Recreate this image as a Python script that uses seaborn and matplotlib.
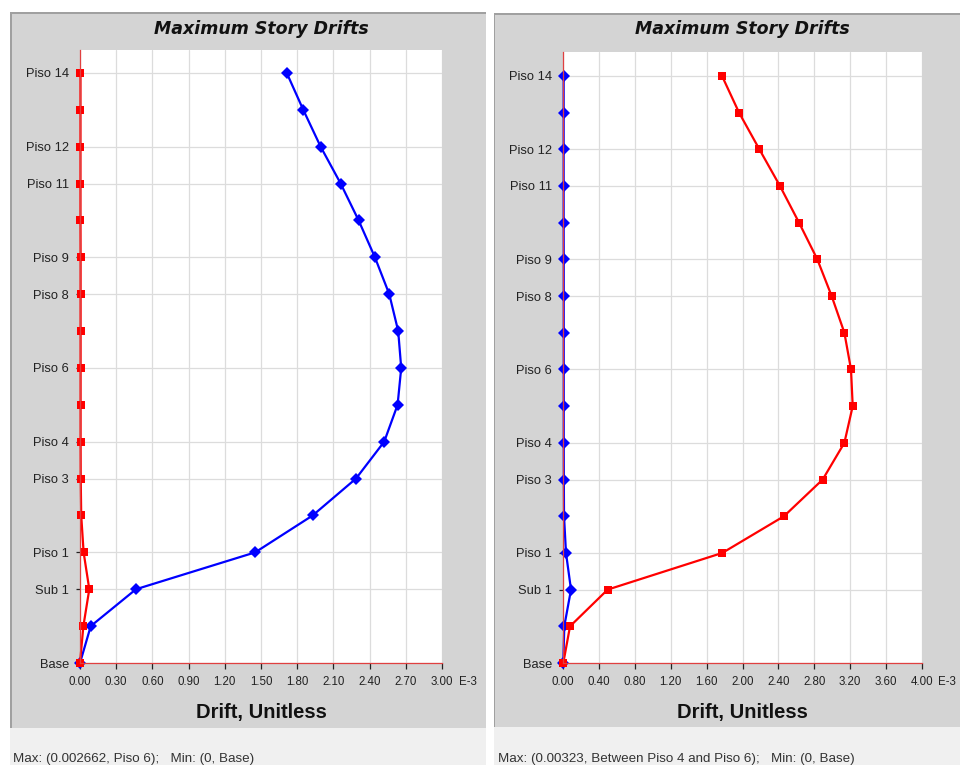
import numpy as np
import pandas as pd
import matplotlib
matplotlib.use("Agg")
import matplotlib.pyplot as plt
from matplotlib.patches import Rectangle
import seaborn as sns

# story list, bottom to top (label of the 2nd level is hidden in the original)
stories = ["Base", "Sub 2", "Sub 1", "Piso 1", "Piso 2", "Piso 3", "Piso 4",
           "Piso 5", "Piso 6", "Piso 7", "Piso 8", "Piso 9", "Piso 10",
           "Piso 11", "Piso 12", "Piso 13", "Piso 14"]
shown_labels = ["Base", "Sub 1", "Piso 1", "Piso 3", "Piso 4", "Piso 6",
                "Piso 8", "Piso 9", "Piso 11", "Piso 12", "Piso 14"]

# drifts in units of 1e-3, bottom to top
left_blue = [0, 0.089, 0.464, 1.452, 1.928, 2.287, 2.521, 2.632, 2.662,
             2.637, 2.563, 2.444, 2.309, 2.160, 1.994, 1.850, 1.713]
left_red = [0, 0.028, 0.077, 0.030, 0.010, 0.006, 0.005, 0.005, 0.005,
            0.005, 0.005, 0.005, 0.004, 0.004, 0.004, 0.004, 0.004]
right_red = [0, 0.075, 0.495, 1.775, 2.463, 2.895, 3.137, 3.230, 3.211,
             3.137, 2.995, 2.835, 2.631, 2.418, 2.188, 1.961, 1.771]
right_blue = [0, 0.011, 0.086, 0.030, 0.008, 0.006, 0.005, 0.005, 0.005,
              0.005, 0.005, 0.005, 0.004, 0.004, 0.004, 0.004, 0.004]

left_ticks = np.round(np.arange(0, 3.0001, 0.3), 2)
right_ticks = np.round(np.arange(0, 4.0001, 0.4), 2)

title = "Maximum Story Drifts"
xlabel = "Drift, Unitless"
left_status = "Max: (0.002662, Piso 6);   Min: (0, Base)"
right_status = "Max: (0.00323, Between Piso 4 and Piso 6);   Min: (0, Base)"

sns.set_style("white")
plt.rcParams["font.family"] = ["Liberation Sans", "DejaVu Sans"]

W, H = 960, 765
fig = plt.figure(figsize=(W / 100, H / 100), dpi=100, facecolor="white")


def px_rect(x0, y0, x1, y1, **kw):
    # rectangle given in image pixels (origin top left), kept behind the axes
    r = Rectangle((x0 / W, 1 - y1 / H), (x1 - x0) / W, (y1 - y0) / H,
                  transform=fig.transFigure, zorder=-10, **kw)
    fig.patches.append(r)


def px_axes(x0, y0, x1, y1):
    return fig.add_axes([x0 / W, 1 - y1 / H, (x1 - x0) / W, (y1 - y0) / H])


# grey panels, status bars
for x0, x1, ytop, ybot in [(10, 486, 12, 728), (494, 961, 13, 727)]:
    px_rect(x0, ytop, x1, ybot, facecolor="#d4d4d4", edgecolor="none")
    px_rect(x0, ybot, x1, H + 1, facecolor="#f0f0f0", edgecolor="none")
    px_rect(x0, ytop, x1, ytop + 1.5, facecolor="#a0a0a0", edgecolor="none")
    px_rect(x0, ytop, x0 + 1.5, ybot, facecolor="#a0a0a0", edgecolor="none")

panels = [
    dict(box=(80, 50, 442, 663), ymax=16.62, ticks=left_ticks,
         series=[(left_blue, "#0000ff", "D", 6), (left_red, "#ff0000", "s", 5.5)],
         status=left_status, sx=13),
    dict(box=(563.3, 52, 921.7, 663), ymax=16.65, ticks=right_ticks,
         series=[(right_blue, "#0000ff", "D", 6), (right_red, "#ff0000", "s", 5.5)],
         status=right_status, sx=498),
]

level = np.arange(len(stories))
shown_pos = [stories.index(s) for s in shown_labels]

for p in panels:
    ax = px_axes(*p["box"])
    ax.set_facecolor("white")
    for vals, color, mk, ms in p["series"]:
        df = pd.DataFrame({"drift": vals, "level": level})
        sns.lineplot(data=df, x="drift", y="level", orient="y", sort=False,
                     color=color, marker=mk, markersize=ms, linewidth=1.6,
                     markeredgewidth=0, ax=ax)
    for ln in ax.lines:
        ln.set_clip_on(False)

    ax.set_xlim(0, p["ticks"][-1])
    ax.set_ylim(0, p["ymax"])
    ax.set_xticks(p["ticks"])
    ax.set_xticklabels([f"{t:.2f}" for t in p["ticks"]])
    ax.set_yticks(shown_pos)
    ax.set_yticklabels(shown_labels)
    ax.grid(True, color="#dcdcdc", linewidth=0.9)
    ax.set_axisbelow(True)

    for side in ["top", "right"]:
        ax.spines[side].set_visible(False)
    for side in ["left", "bottom"]:
        ax.spines[side].set_color("#e04040")
        ax.spines[side].set_linewidth(0.9)

    ax.tick_params(axis="x", direction="out", length=4.5, width=0.9,
                   color="#222222", pad=5, labelsize=8.3, labelcolor="#222222")
    ax.tick_params(axis="y", direction="out", length=3, width=0.9,
                   color="#222222", pad=5, labelsize=9.3, labelcolor="#222222")
    ax.tick_params(bottom=True, left=True)

    ax.set_ylabel("")
    ax.set_xlabel(xlabel, fontsize=14.5, fontweight="bold", labelpad=11,
                  color="#111111")
    ax.annotate("E-3", xy=(1, 0), xycoords="axes fraction",
                xytext=(12, -9.5), textcoords="offset points",
                ha="left", va="top", fontsize=8.3, color="#222222")

    x0, y0, x1, y1 = p["box"]
    fig.text((x0 + x1) / 2 / W, 1 - 29.5 / H, title, ha="center", va="center",
             fontsize=12.5, fontweight="bold", fontstyle="italic",
             family="DejaVu Sans", color="#111111")
    fig.text(p["sx"] / W, 1 - 759 / H, p["status"], ha="left", va="center",
             fontsize=9.6, color="#333333")

fig.savefig("out.png", dpi=100, facecolor=fig.get_facecolor())
